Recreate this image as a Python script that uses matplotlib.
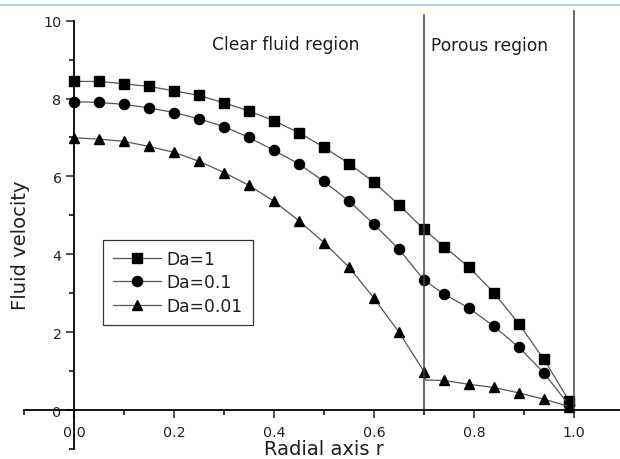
import matplotlib
matplotlib.use('Agg')
import matplotlib.pyplot as plt
from matplotlib.lines import Line2D

plt.rcParams['font.family'] = ['DejaVu Sans']

# radial positions (clear fluid 0..0.7, porous 0.74..0.99)
r = [0.0, 0.05, 0.1, 0.15, 0.2, 0.25, 0.3, 0.35, 0.4, 0.45, 0.5, 0.55, 0.6, 0.65, 0.7,
     0.74, 0.79, 0.84, 0.89, 0.94, 0.99]

u_da1 = [8.44, 8.44, 8.38, 8.31, 8.20, 8.08, 7.89, 7.68, 7.43, 7.12, 6.75, 6.33, 5.85,
         5.27, 4.64, 4.20, 3.67, 3.01, 2.21, 1.30, 0.24]
u_da01 = [7.92, 7.90, 7.85, 7.76, 7.64, 7.48, 7.28, 7.00, 6.67, 6.32, 5.87, 5.37, 4.77,
          4.13, 3.34, 2.98, 2.62, 2.15, 1.61, 0.95, 0.13]
# Da=0.01 has an extra interface point (no marker) just past r=0.7
r_da001 = [0.0, 0.05, 0.1, 0.15, 0.2, 0.25, 0.3, 0.35, 0.4, 0.45, 0.5, 0.55, 0.6, 0.65, 0.7,
           0.703, 0.74, 0.79, 0.84, 0.89, 0.94, 0.99]
u_da001 = [6.99, 6.96, 6.90, 6.77, 6.62, 6.39, 6.10, 5.77, 5.36, 4.86, 4.30, 3.67, 2.87,
           2.00, 0.99, 0.77, 0.76, 0.66, 0.58, 0.44, 0.28, 0.09]
interface_idx = 15

labels = ['Da=1', 'Da=0.1', 'Da=0.01']
markers = ['s', 'o', '^']

fig = plt.figure(figsize=(6.2, 4.6), dpi=100)
ax = fig.add_axes([24 / 620, 10 / 460, 600 / 620, 440 / 460])

lc = '#555555'
tc = '#1e1e1e'
ax.plot(r, u_da1, color=lc, lw=0.9, marker='s', ms=6.8, mfc='black', mec='black')
ax.plot(r, u_da01, color=lc, lw=0.9, marker='o', ms=7.3, mfc='black', mec='black')
mk = [i for i in range(len(r_da001)) if i != interface_idx]
ax.plot(r_da001, u_da001, color=lc, lw=0.9, marker='^', ms=7.8, mfc='black', mec='black',
        markevery=mk)

# region boundaries
ax.plot([0.7, 0.7], [0, 10.15], color='#444444', lw=1.1)
ax.plot([1.0, 1.0], [0, 10.25], color='#444444', lw=1.1)

ax.text(0.423, 9.27, 'Clear fluid region', fontsize=12.3, ha='center', va='baseline',
        color=tc)
ax.text(0.832, 9.25, 'Porous region', fontsize=12.3, ha='center', va='baseline', color=tc)

ax.set_xlim(-0.1, 1.1)
ax.set_ylim(-1, 10.3)

for s in ['top', 'right']:
    ax.spines[s].set_visible(False)
ax.spines['left'].set_position(('data', 0))
ax.spines['bottom'].set_position(('data', 0))
ax.spines['left'].set_bounds(-1, 10)
ax.spines['bottom'].set_bounds(-0.1, 1.1)
ax.spines['left'].set_linewidth(1.3)
ax.spines['bottom'].set_linewidth(1.3)

ax.set_xticks([0, 0.2, 0.4, 0.6, 0.8, 1.0])
ax.set_xticklabels(['0.0', '0.2', '0.4', '0.6', '0.8', '1.0'])
ax.set_xticks([-0.1, 0.1, 0.3, 0.5, 0.7, 0.9, 1.1], minor=True)
ax.set_yticks([0, 2, 4, 6, 8, 10])
ax.set_yticks([-1, 1, 3, 5, 7, 9], minor=True)
ax.tick_params(which='major', direction='out', length=6, width=1.1, labelsize=10.3,
               colors='#222222')
ax.tick_params(which='minor', direction='out', length=3.5, width=1.1)
ax.tick_params(axis='y', pad=3)
ax.tick_params(axis='x', pad=5)

fig.text(21 / 620, 1 - 245 / 460, 'Fluid velocity', rotation=90, fontsize=14,
         ha='center', va='center', color=tc)
fig.text(324 / 620, 1 - 455 / 460, 'Radial axis r', fontsize=14, ha='center',
         va='baseline', color=tc)

handles = [Line2D([0], [0], color=lc, lw=0.9, marker=m, ms=7.3, mfc='black', mec='black')
           for m in markers]
leg = ax.legend(handles, labels, loc='upper left',
                bbox_to_anchor=((103 - 24) / 600, (450 - 241) / 440),
                fontsize=12.3, frameon=True, fancybox=False, handlelength=2.8,
                borderpad=0.6, labelspacing=0.3, handletextpad=0.3,
                borderaxespad=0)
leg.get_frame().set_edgecolor('black')
leg.get_frame().set_linewidth(0.9)
for t in leg.get_texts():
    t.set_color(tc)

# light blue page border at the top
fig.add_artist(Line2D([0, 1], [1 - 6 / 460, 1 - 6 / 460], color='#a9c8ea', lw=1.2,
                      transform=fig.transFigure))

fig.savefig('out.png', dpi=100)
